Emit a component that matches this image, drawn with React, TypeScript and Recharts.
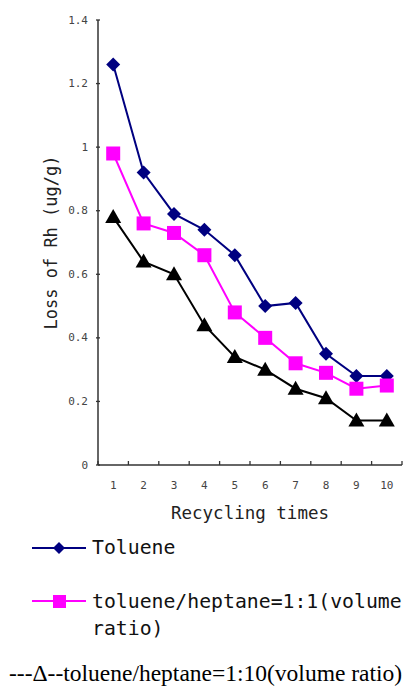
import React from 'react';
import { LineChart, Line, XAxis, YAxis, Label } from 'recharts';

const cycles = ['1', '2', '3', '4', '5', '6', '7', '8', '9', '10'];
const toluene = [1.26, 0.92, 0.79, 0.74, 0.66, 0.5, 0.51, 0.35, 0.28, 0.28];
const mix11 = [0.98, 0.76, 0.73, 0.66, 0.48, 0.4, 0.32, 0.29, 0.24, 0.25];
const mix110 = [0.78, 0.64, 0.6, 0.44, 0.34, 0.3, 0.24, 0.21, 0.14, 0.14];
const yTicks = [0, 0.2, 0.4, 0.6, 0.8, 1, 1.2, 1.4];
const seriesNames = [
  'Toluene',
  'toluene/heptane=1:1(volume ratio)',
  '---\u0394--toluene/heptane=1:10(volume ratio)',
];
const xTitle = 'Recycling times';
const yTitle = 'Loss of Rh (ug/g)';

const data = cycles.map((c, i) => ({
  cycle: c,
  toluene: toluene[i],
  mix11: mix11[i],
  mix110: mix110[i],
}));

const NAVY = '#000080';
const MAGENTA = '#FF00FF';
const BLACK = '#000000';
const AXIS = '#333333';
const MONO = '"DejaVu Sans Mono", monospace';

const CHART_W = 412;
const CHART_H = 530;
const MARGIN = { top: 20, right: 10, bottom: 10, left: 8 };
const Y_W = 90;
const BAND = (CHART_W - MARGIN.left - MARGIN.right - Y_W) / cycles.length;

const fmtY = (v: number) => (v === 0 ? '0' : v === 1 ? '1' : v.toFixed(1));

const tickTextStyle = { fontFamily: MONO, fontSize: 11, fill: '#444' };

const YTick = (props: any) => {
  const { x, y, payload } = props;
  return (
    <g>
      <line x1={x + 8} x2={x + 12} y1={y} y2={y} stroke={AXIS} strokeWidth={1.3} />
      <text x={x} y={y} textAnchor="end" dominantBaseline="central" style={tickTextStyle}>
        {fmtY(payload.value)}
      </text>
    </g>
  );
};

const XTick = (props: any) => {
  const { x, y, payload, index } = props;
  const axisY = y - 8;
  const isLast = index === cycles.length - 1;
  return (
    <g>
      <line x1={x - BAND / 2} x2={x - BAND / 2} y1={axisY} y2={axisY - 4} stroke={AXIS} strokeWidth={1.3} />
      {isLast && (
        <line x1={x + BAND / 2} x2={x + BAND / 2} y1={axisY} y2={axisY - 4} stroke={AXIS} strokeWidth={1.3} />
      )}
      <text x={x} y={y + 12} textAnchor="middle" dominantBaseline="central" style={tickTextStyle}>
        {payload.value}
      </text>
    </g>
  );
};

const Diamond = (props: any) => {
  const { cx, cy, index } = props;
  const s = 7;
  return (
    <path key={`d${index}`} d={`M${cx},${cy - s}L${cx + s},${cy}L${cx},${cy + s}L${cx - s},${cy}Z`} fill={NAVY} />
  );
};

const Square = (props: any) => {
  const { cx, cy, index } = props;
  const s = 7;
  return <rect key={`s${index}`} x={cx - s} y={cy - s} width={2 * s} height={2 * s} fill={MAGENTA} />;
};

const Triangle = (props: any) => {
  const { cx, cy, index } = props;
  return (
    <path key={`t${index}`} d={`M${cx},${cy - 8}L${cx + 8},${cy + 6}L${cx - 8},${cy + 6}Z`} fill={BLACK} />
  );
};

export default function App() {
  return (
    <div style={{ position: 'absolute', left: 0, top: 0, width: 412, height: 686, background: '#fff', overflow: 'hidden' }}>
      <LineChart width={CHART_W} height={CHART_H} data={data} margin={MARGIN}>
        <XAxis
          dataKey="cycle"
          scale="band"
          interval={0}
          height={55}
          tickLine={false}
          tickSize={6}
          tickMargin={2}
          axisLine={{ stroke: AXIS, strokeWidth: 1.5 }}
          tick={<XTick />}
        >
          <Label
            value={xTitle}
            position="insideBottom"
            offset={1}
            style={{ fontFamily: MONO, fontSize: 17.5, fill: '#222' }}
          />
        </XAxis>
        <YAxis
          type="number"
          domain={[0, 1.4]}
          ticks={yTicks}
          width={Y_W}
          tickLine={false}
          tickSize={6}
          tickMargin={4}
          axisLine={{ stroke: AXIS, strokeWidth: 1.5 }}
          tick={<YTick />}
        >
          <Label
            value={yTitle}
            angle={-90}
            position="insideLeft"
            offset={43}
            style={{ fontFamily: MONO, fontSize: 17, fill: '#222', textAnchor: 'middle' }}
          />
        </YAxis>
        <Line
          dataKey="toluene"
          name={seriesNames[0]}
          stroke={NAVY}
          strokeWidth={2}
          dot={<Diamond />}
          isAnimationActive={false}
        />
        <Line
          dataKey="mix11"
          name={seriesNames[1]}
          stroke={MAGENTA}
          strokeWidth={2}
          dot={<Square />}
          isAnimationActive={false}
        />
        <Line
          dataKey="mix110"
          name={seriesNames[2]}
          stroke={BLACK}
          strokeWidth={2}
          dot={<Triangle />}
          isAnimationActive={false}
        />
      </LineChart>

      <div style={{ position: 'absolute', left: 30, top: 536, width: 60, height: 24 }}>
        <svg width={60} height={24}>
          <line x1={2} x2={56} y1={12} y2={12} stroke={NAVY} strokeWidth={2} />
          <path d="M29,6L35,12L29,18L23,12Z" fill={NAVY} />
        </svg>
      </div>
      <div
        style={{
          position: 'absolute',
          left: 92,
          top: 536,
          height: 24,
          lineHeight: '24px',
          fontFamily: MONO,
          fontSize: 19.8,
          color: '#111',
        }}
      >
        {seriesNames[0]}
      </div>

      <div style={{ position: 'absolute', left: 30, top: 589, width: 60, height: 24 }}>
        <svg width={60} height={24}>
          <line x1={2} x2={56} y1={12} y2={12} stroke={MAGENTA} strokeWidth={2} />
          <rect x={23} y={6} width={13} height={13} fill={MAGENTA} />
        </svg>
      </div>
      <div
        style={{
          position: 'absolute',
          left: 92,
          top: 588,
          width: 320,
          lineHeight: '27px',
          fontFamily: MONO,
          fontSize: 19.8,
          color: '#111',
        }}
      >
        {seriesNames[1]}
      </div>

      <div
        style={{
          position: 'absolute',
          left: 9,
          top: 660,
          whiteSpace: 'nowrap',
          fontFamily: '"Liberation Serif", "Times New Roman", serif',
          fontSize: 23.5,
          lineHeight: '26px',
          color: '#000',
        }}
      >
        {seriesNames[2]}
      </div>
    </div>
  );
}
